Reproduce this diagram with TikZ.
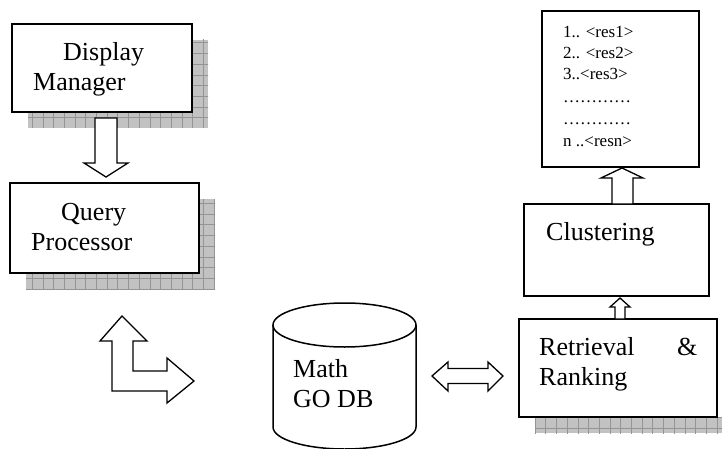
\documentclass[tikz,border=0pt]{standalone}
\usepackage{fontspec}
\setmainfont{Liberation Serif}
\begin{document}
\begin{tikzpicture}[x=1pt,y=-1pt,
  box/.style={draw=black,line width=1.6pt,fill=white},
  blockarrow/.style={draw=black,line width=1.3pt,fill=white,line join=miter},
  shadowfill/.style={fill=black!24},
  shadowgrid/.style={draw=black!42,line width=0.6pt},
  bigtxt/.style={anchor=base west,inner sep=0pt,font=\fontsize{26}{30}\selectfont},
  smalltxt/.style={anchor=base west,inner sep=0pt,font=\fontsize{17}{20}\selectfont}]
\useasboundingbox (0,0) rectangle (722,449);
\fill[white] (0,0) rectangle (722,449);
% shadows
\foreach \a/\b/\c/\d in {28/40/208/128, 26/199/215/289, 535/417/733/433}{
  \fill[shadowfill] (\a,\b) rectangle (\c,\d);
  \begin{scope}
    \clip (\a,\b) rectangle (\c,\d);
    \draw[shadowgrid,step=10.7pt] (0,0) grid (740,449);
  \end{scope}
}
% boxes
\draw[box] (12,24) rectangle (192,112) coordinate (dmbr);
\node[inner sep=0pt] (dm) at (102,68) {};
\draw[box] (10,183) rectangle (199,273);
\node[inner sep=0pt] (qp) at (104.5,228) {};
\draw[box] (542,11) rectangle (699,167);
\node[inner sep=0pt] (res) at (620.5,89) {};
\draw[box] (524,204) rectangle (709,296);
\node[inner sep=0pt] (cl) at (616.5,250) {};
\draw[box] (519,319) rectangle (717,417);
\node[inner sep=0pt] (rr) at (618,368) {};
% cylinder
\draw[line width=1.5pt,fill=white] (273,325) -- (273,427)
  .. controls (273,439.15) and (305,449) .. (344.5,449)
  .. controls (384,449) and (416,439.15) .. (416,427) -- (416,325);
\draw[line width=1.5pt] (344.5,325) ellipse [x radius=71.5pt, y radius=22pt];
\node[inner sep=0pt] (db) at (344.5,380) {};
% texts
\node[bigtxt] (t1) at (63,61) {Display};
\node[bigtxt] (t2) at (33,91) {Manager};
\node[bigtxt] (t3) at (61,220) {Query};
\node[bigtxt] (t4) at (31,250) {Processor};
\node[bigtxt] (t5) at (546,240) {Clustering};
\node[bigtxt] (t6) at (539,355) {Retrieval};
\node[bigtxt] (t7) at (677,355) {\&};
\node[bigtxt] (t8) at (539,385) {Ranking};
\node[bigtxt] (t9) at (293,377) {Math};
\node[bigtxt] (t10) at (293,407) {GO DB};
\node[smalltxt] (r1) at (563,38) {1.. <res1>};
\node[smalltxt] (r2) at (563,59) {2.. <res2>};
\node[smalltxt] (r3) at (563,80) {3..<res3>};
\node[smalltxt] (r4) at (563,103) {…………};
\node[smalltxt] (r5) at (563,125) {…………};
\node[smalltxt] (r6) at (563,147) {n ..<resn>};
% block arrows
\draw[blockarrow] (95,118) -- (117,118) -- (117,163) -- (128,163) -- (106,177)
  -- (84,163) -- (95,163) -- cycle;
\draw[blockarrow] (122,316) -- (147,341) -- (133,341) -- (133,371) -- (167,371)
  -- (167,358) -- (194,381) -- (167,403) -- (167,391) -- (112,391) -- (112,341)
  -- (100,341) -- cycle;
\draw[blockarrow] (432,376) -- (448,362) -- (448,368.5) -- (488,368.5) -- (488,362)
  -- (503,376) -- (488,391) -- (488,383.5) -- (448,383.5) -- (448,391) -- cycle;
\draw[blockarrow] (622,168) -- (643,178) -- (633,178) -- (633,204) -- (612,204)
  -- (612,178) -- (601,178) -- cycle;
\draw[blockarrow] (620,298) -- (630,307) -- (625,307) -- (625,319) -- (615,319)
  -- (615,307) -- (610,307) -- cycle;
\end{tikzpicture}
\end{document}
